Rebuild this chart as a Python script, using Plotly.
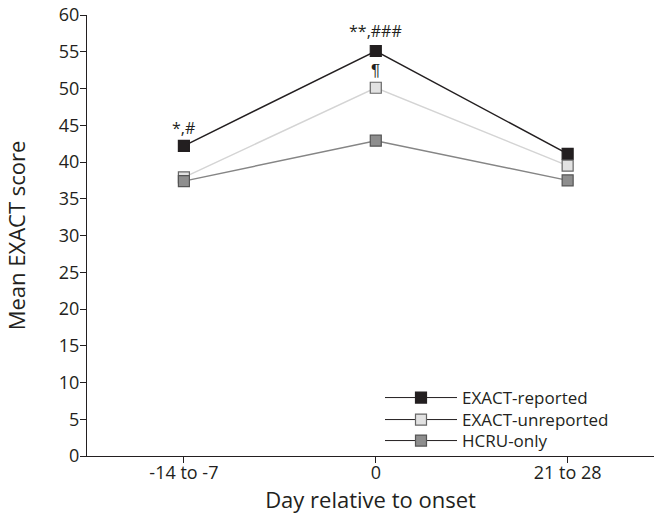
import plotly.graph_objects as go

categories = ["-14 to -7", "0", "21 to 28"]
exact_reported = [42.2, 55.1, 41.1]
exact_unreported = [37.9, 50.1, 39.5]
hcru_only = [37.4, 42.9, 37.5]
y_ticks = list(range(0, 61, 5))

FONT = "Open Sans"
TXT = "#231f20"
fig = go.Figure()

series = [
    ("EXACT-reported", exact_reported, "#231f20", "#231f20", "#231f20"),
    ("EXACT-unreported", exact_unreported, "#d4d4d4", "#e2e2e2", "#666666"),
    ("HCRU-only", hcru_only, "#858585", "#8e8e8e", "#555555"),
]
xi = list(range(len(categories)))
for name, vals, lc, fc, mc in series:
    fig.add_trace(go.Scatter(
        x=xi, y=vals, mode="lines+markers", name=name, showlegend=False,
        line=dict(color=lc, width=1.5),
        marker=dict(symbol="square", size=11, color=fc, line=dict(color=mc, width=1.2)),
    ))
# legend entries (legend lines drawn dark as in the original), one legend each for tight spacing
legend_ids = ["legend", "legend2", "legend3"]
for (name, vals, lc, fc, mc), lid in zip(series, legend_ids):
    fig.add_trace(go.Scatter(
        x=[None], y=[None], mode="lines+markers", name=name, legend=lid,
        line=dict(color=TXT, width=1),
        marker=dict(symbol="square", size=11, color=fc, line=dict(color=mc, width=1.2)),
    ))

ann_font = dict(family=FONT, size=16, color=TXT)
fig.add_annotation(x=0, y=exact_reported[0], text="*,#", showarrow=False, yshift=18, font=ann_font)
fig.add_annotation(x=1, y=exact_reported[1], text="**,###", showarrow=False, yshift=20, font=ann_font)
fig.add_annotation(x=1, y=exact_unreported[1], text="¶", showarrow=False, yshift=17,
                   font=dict(family="Liberation Sans", size=17, color=TXT))

leg_common = dict(xanchor="left", yanchor="middle", bgcolor="rgba(0,0,0,0)",
                  font=dict(family=FONT, size=17, color=TXT), itemwidth=72)
lx = (380 - 87) / 567
fig.update_layout(
    width=654, height=517,
    margin=dict(l=87, r=0, t=15, b=61),
    plot_bgcolor="white", paper_bgcolor="white",
    font=dict(family=FONT, size=18, color=TXT),
    legend=dict(x=lx, y=(456 - 398) / 441, **leg_common),
    legend2=dict(x=lx, y=(456 - 420) / 441, **leg_common),
    legend3=dict(x=lx, y=(456 - 441) / 441, **leg_common),
    xaxis=dict(
        range=[-0.505, 2.45], tickmode="array", tickvals=xi, ticktext=categories,
        showline=True, linecolor=TXT, linewidth=1.2,
        ticks="outside", ticklen=6, tickcolor=TXT, showgrid=False, zeroline=False,
        ticklabelstandoff=-6,
        title=dict(text="Day relative to onset", standoff=0),
    ),
    yaxis=dict(
        range=[0, 60], tickvals=y_ticks,
        showline=True, linecolor=TXT, linewidth=1.2,
        ticks="outside", ticklen=6, tickcolor=TXT, showgrid=False, zeroline=False,
        ticklabelstandoff=-3,
        title=dict(text="Mean EXACT score", standoff=27),
    ),
)
fig.write_html("out.html", config={"displayModeBar": False},
               post_script="document.body.style.margin='0';")
